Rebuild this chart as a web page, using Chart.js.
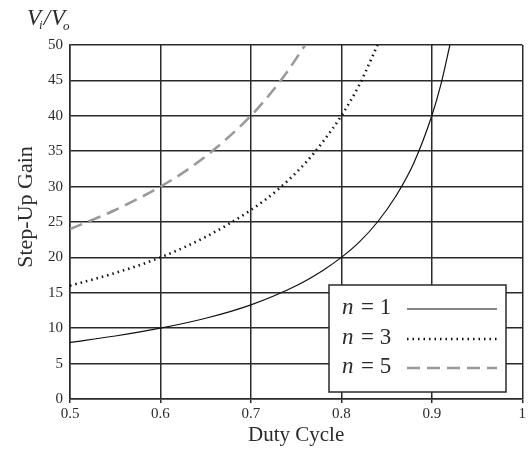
<!DOCTYPE html>
<html>
<head>
<meta charset="utf-8">
<script src="https://cdn.jsdelivr.net/npm/chart.js@4/dist/chart.umd.min.js"></script>
<style>
  html, body { margin: 0; padding: 0; background: #fff; }
  #wrap { width: 528px; height: 450px; position: relative; }
</style>
</head>
<body>
<div id="wrap"><canvas id="gain-chart" width="528" height="450"></canvas></div>
<script>
"use strict";

// values: [duty cycle, gain]
const n1Points = [
  [0.5, 8], [0.55, 8.9], [0.6, 10], [0.65, 11.4], [0.7, 13.3], [0.75, 16],
  [0.78, 18.2], [0.8, 20], [0.82, 22.2], [0.84, 25], [0.86, 28.6],
  [0.88, 33.3], [0.9, 40], [0.91, 44.4], [0.92, 50],
];
const n3Points = [
  [0.5, 16], [0.55, 17.8], [0.6, 20], [0.65, 22.9], [0.7, 26.7],
  [0.73, 29.6], [0.76, 33.3], [0.78, 36.4], [0.8, 40], [0.82, 44.4], [0.84, 50],
];
const n5Points = [
  [0.5, 24], [0.55, 26.7], [0.6, 30], [0.63, 32.4], [0.66, 35.3],
  [0.7, 40], [0.72, 42.9], [0.74, 46.2], [0.76, 50],
];
const seriesNames = ["1", "3", "5"];
const xTicks = [0.5, 0.6, 0.7, 0.8, 0.9, 1];
const yTicks = [0, 5, 10, 15, 20, 25, 30, 35, 40, 45, 50];

const SERIF = "'Liberation Serif', 'DejaVu Serif', serif";
const GRID = "#2a2a2a";
const TEXT = "#2b2b2b";

function toXY(points) {
  return points.map(([x, y]) => ({ x, y }));
}

const lineStyles = [
  { borderColor: "#111", borderWidth: 1.2, borderDash: [] },
  { borderColor: "#111", borderWidth: 2.6, borderDash: [1.5, 4], borderCapStyle: "butt" },
  { borderColor: "#9a9a9a", borderWidth: 2.6, borderDash: [13, 7] },
];

const datasets = [n1Points, n3Points, n5Points].map((pts, i) => ({
  label: "n = " + seriesNames[i],
  data: toXY(pts),
  pointRadius: 0,
  cubicInterpolationMode: "monotone",
  fill: false,
  ...lineStyles[i],
}));

const overlay = {
  id: "overlay",
  afterDraw(chart) {
    const ctx = chart.ctx;
    ctx.save();
    // V_i / V_o label
    ctx.fillStyle = TEXT;
    ctx.textBaseline = "alphabetic";
    ctx.textAlign = "left";
    let x = 27;
    const y = 25;
    ctx.font = "italic 23px " + SERIF;
    ctx.fillText("V", x, y);
    x += ctx.measureText("V").width - 2;
    ctx.font = "italic 13px " + SERIF;
    ctx.fillText("i", x, y + 4);
    x += ctx.measureText("i").width + 1;
    ctx.font = "italic 23px " + SERIF;
    ctx.fillText("/", x, y);
    x += ctx.measureText("/").width + 1;
    ctx.fillText("V", x, y);
    x += ctx.measureText("V").width - 2;
    ctx.font = "italic 13px " + SERIF;
    ctx.fillText("o", x, y + 5);

    // y axis title
    ctx.save();
    ctx.translate(26, 207);
    ctx.rotate(-Math.PI / 2);
    ctx.textAlign = "center";
    ctx.textBaseline = "middle";
    ctx.font = "22px " + SERIF;
    ctx.fillText("Step-Up Gain", 0, 0);
    ctx.restore();

    // legend box
    const bx = 329, by = 285, bw = 177, bh = 107;
    ctx.fillStyle = "#fff";
    ctx.fillRect(bx, by, bw, bh);
    ctx.strokeStyle = GRID;
    ctx.lineWidth = 1.5;
    ctx.strokeRect(bx, by, bw, bh);
    const rows = [308, 338, 367];
    chart.data.datasets.forEach((ds, i) => {
      const ry = rows[i];
      ctx.fillStyle = TEXT;
      ctx.textBaseline = "middle";
      ctx.textAlign = "left";
      ctx.font = "italic 23px " + SERIF;
      ctx.fillText("n", 342, ry);
      ctx.font = "23px " + SERIF;
      ctx.fillText("= " + seriesNames[i], 361, ry);
      ctx.beginPath();
      ctx.strokeStyle = ds.borderColor;
      ctx.lineWidth = ds.borderWidth;
      ctx.setLineDash(ds.borderDash);
      ctx.moveTo(407, ry + 1);
      ctx.lineTo(497, ry + 1);
      ctx.stroke();
      ctx.setLineDash([]);
    });
    ctx.restore();
  },
};

new Chart(document.getElementById("gain-chart"), {
  type: "line",
  data: { datasets },
  plugins: [overlay],
  options: {
    responsive: false,
    animation: false,
    layout: { padding: { left: 0, right: 5, top: 45, bottom: 0 } },
    plugins: { legend: { display: false }, tooltip: { enabled: false } },
    scales: {
      x: {
        type: "linear",
        min: 0.5,
        max: 1,
        afterBuildTicks: (scale) => { scale.ticks = xTicks.map((v) => ({ value: v })); },
        afterFit: (scale) => { scale.height = 51; },
        ticks: {
          color: TEXT,
          font: { family: SERIF, size: 15 },
          padding: 2,
          maxRotation: 0,
          callback: (v) => String(v),
        },
        grid: { color: GRID, lineWidth: 1.5, tickLength: 4 },
        border: { color: GRID, width: 1.5 },
        title: {
          display: true,
          text: "Duty Cycle",
          color: TEXT,
          font: { family: SERIF, size: 21 },
          padding: { top: 0, bottom: 2 },
        },
      },
      y: {
        min: 0,
        max: 50,
        afterBuildTicks: (scale) => { scale.ticks = yTicks.map((v) => ({ value: v })); },
        afterFit: (scale) => { scale.width = 70; },
        ticks: {
          color: TEXT,
          font: { family: SERIF, size: 15 },
          padding: 7,
        },
        grid: { color: GRID, lineWidth: 1.5, drawTicks: false },
        border: { color: GRID, width: 1.5 },
      },
    },
  },
});
</script>
</body>
</html>
